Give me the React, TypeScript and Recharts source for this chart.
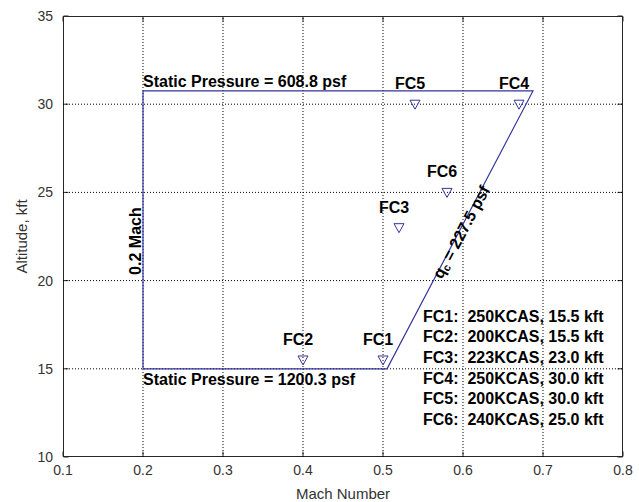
import { ScatterChart, Scatter, XAxis, YAxis, ReferenceLine, ReferenceDot, ReferenceArea } from "recharts"

// axis ticks
const machTicks = [0.1, 0.2, 0.3, 0.4, 0.5, 0.6, 0.7, 0.8]
const altTicks = [10, 15, 20, 25, 30, 35]

// flight envelope outline (closed)
const envelopeMach = [0.2, 0.505, 0.6875, 0.2, 0.2]
const envelopeAlt = [15, 15, 30.75, 30.75, 15]

// flight conditions
const fcNames = ["FC1", "FC2", "FC3", "FC4", "FC5", "FC6"]
const fcMach = [0.5, 0.4, 0.52, 0.67, 0.54, 0.58]
const fcAlt = [15.5, 15.5, 23, 30, 30, 25]
const fcNotes = [
  "FC1:  250KCAS, 15.5 kft",
  "FC2:  200KCAS, 15.5 kft",
  "FC3:  223KCAS, 23.0 kft",
  "FC4:  250KCAS, 30.0 kft",
  "FC5:  200KCAS, 30.0 kft",
  "FC6:  240KCAS, 25.0 kft",
]

const envelope = envelopeMach.map((m, i) => ({ mach: m, alt: envelopeAlt[i] }))
const points = fcNames.map((name, i) => ({ name, mach: fcMach[i], alt: fcAlt[i] }))

const xMin = machTicks[0]
const xMax = machTicks[machTicks.length - 1]
const yMin = altTicks[0]
const yMax = altTicks[altTicks.length - 1]

const blue = "#3535a0"
const axisColor = "#262626"
const font = "'Liberation Sans', Arial, sans-serif"
const bold = { fontFamily: font, fontWeight: 700, fontSize: 16, fill: "#000" }

const Marker = (props: any) => {
  const { cx, cy, payload } = props
  if (cx == null || cy == null) return <g />
  return (
    <g>
      <polygon
        points={`${cx - 5},${cy - 4} ${cx + 5},${cy - 4} ${cx},${cy + 5}`}
        fill="none"
        stroke={blue}
        strokeWidth={1}
      />
      <text x={cx - 5} y={cy - 15} textAnchor="middle" style={bold}>
        {payload.name}
      </text>
    </g>
  )
}

// MATLAB style box with inward ticks, sized from the plot area's viewBox
const AxesBox = (p: any) => {
  const { x, y, width, height } = p.viewBox
  const tl = 5
  const px = (t: number) => x + ((t - xMin) / (xMax - xMin)) * width
  const py = (t: number) => y + height - ((t - yMin) / (yMax - yMin)) * height
  const l = x + 0.5
  const r = x + width - 0.5
  const t = y + 0.5
  const b = y + height - 0.5
  return (
    <g stroke={axisColor} strokeWidth={1} fill="none">
      <rect x={l} y={t} width={r - l} height={b - t} />
      {machTicks.map((v) => (
        <g key={"mx" + v}>
          <line x1={px(v)} y1={b} x2={px(v)} y2={b - tl} />
          <line x1={px(v)} y1={t} x2={px(v)} y2={t + tl} />
        </g>
      ))}
      {altTicks.map((v) => (
        <g key={"ay" + v}>
          <line x1={l} y1={py(v)} x2={l + tl} y2={py(v)} />
          <line x1={r} y1={py(v)} x2={r - tl} y2={py(v)} />
        </g>
      ))}
    </g>
  )
}

const note = (key: string, x: number, y: number, render: (vx: number, vy: number) => any) => (
  <ReferenceDot
    key={key}
    x={x}
    y={y}
    r={0}
    fill="none"
    stroke="none"
    isFront
    label={(p: any) => render(p.viewBox.x, p.viewBox.y)}
  />
)

export default function App() {
  return (
    <div style={{ position: "absolute", left: 0, top: 0, width: 639, height: 502 }}>
      <ScatterChart width={639} height={502} margin={{ top: 16, right: 16, bottom: 0, left: 0 }}>
        {/* dotted grid at every tick */}
        {machTicks.slice(1, -1).map((t) => (
          <ReferenceLine key={"gx" + t} x={t} stroke="#000" strokeWidth={1} strokeDasharray="1 2" ifOverflow="visible" />
        ))}
        {altTicks.slice(1, -1).map((t) => (
          <ReferenceLine key={"gy" + t} y={t} stroke="#000" strokeWidth={1} strokeDasharray="1 2" ifOverflow="visible" />
        ))}
        <ReferenceArea
          x1={xMin}
          x2={xMax}
          y1={yMin}
          y2={yMax}
          fill="none"
          fillOpacity={0}
          stroke="none"
          ifOverflow="visible"
          label={(p: any) => <AxesBox viewBox={p.viewBox} />}
        />

        <XAxis
          type="number"
          dataKey="mach"
          domain={[xMin, xMax]}
          ticks={machTicks}
          interval={0}
          allowDataOverflow
          height={45}
          tickSize={0}
          tickMargin={8}
          tickLine={false}
          axisLine={false}
          tickFormatter={(v: number) => v.toFixed(1)}
          tick={{ fill: "#333", fontSize: 14, fontFamily: font }}
          label={(p: any) => (
            <text
              x={p.viewBox.x + p.viewBox.width / 2}
              y={p.viewBox.y + 42}
              textAnchor="middle"
              style={{ fontFamily: font, fontSize: 15, fill: "#333" }}
            >
              Mach Number
            </text>
          )}
        />
        <YAxis
          type="number"
          dataKey="alt"
          domain={[yMin, yMax]}
          ticks={altTicks}
          interval={0}
          allowDataOverflow
          width={63}
          tickSize={0}
          tickMargin={10}
          tickLine={false}
          axisLine={false}
          tick={{ fill: "#333", fontSize: 14, fontFamily: font }}
          label={(p: any) => {
            const x = p.viewBox.x + 27
            const y = p.viewBox.y + p.viewBox.height / 2
            return (
              <text
                x={x}
                y={y}
                transform={`rotate(-90, ${x}, ${y})`}
                textAnchor="middle"
                style={{ fontFamily: font, fontSize: 15, fill: "#333" }}
              >
                Altitude, kft
              </text>
            )
          }}
        />

        <Scatter
          data={envelope}
          line={{ stroke: blue, strokeWidth: 1.2 }}
          lineType="joint"
          shape={() => <g />}
          isAnimationActive={false}
        />
        <Scatter data={points} shape={Marker} isAnimationActive={false} />

        {note("top", 0.2, 30.75, (vx, vy) => (
          <text x={vx} y={vy - 4} style={bold}>
            Static Pressure = 608.8 psf
          </text>
        ))}
        {note("bottom", 0.2, 15, (vx, vy) => (
          <text x={vx} y={vy + 16} style={bold}>
            Static Pressure = 1200.3 psf
          </text>
        ))}
        {note("mach", 0.2, 22.24, (vx, vy) => (
          <text
            x={vx - 2}
            y={vy}
            transform={`rotate(-90, ${vx - 2}, ${vy})`}
            textAnchor="middle"
            style={bold}
          >
            0.2 Mach
          </text>
        ))}
        {note("qc", 0.5975, 22.76, (vx, vy) => (
          <text
            x={vx}
            y={vy}
            transform={`rotate(-62, ${vx}, ${vy})`}
            textAnchor="middle"
            dominantBaseline="central"
            style={bold}
          >
            q
            <tspan fontSize={11} dy={4}>
              c
            </tspan>
            <tspan dy={-4}> = 227.5 psf</tspan>
          </text>
        ))}
        {note("notes", 0.55, 18, (vx, vy) => (
          <text x={vx} y={vy + 6} style={{ ...bold, whiteSpace: "pre" }}>
            {fcNotes.map((t, i) => (
              <tspan key={t} x={vx} dy={i === 0 ? 0 : 20.6}>
                {t}
              </tspan>
            ))}
          </text>
        ))}
      </ScatterChart>
    </div>
  )
}
